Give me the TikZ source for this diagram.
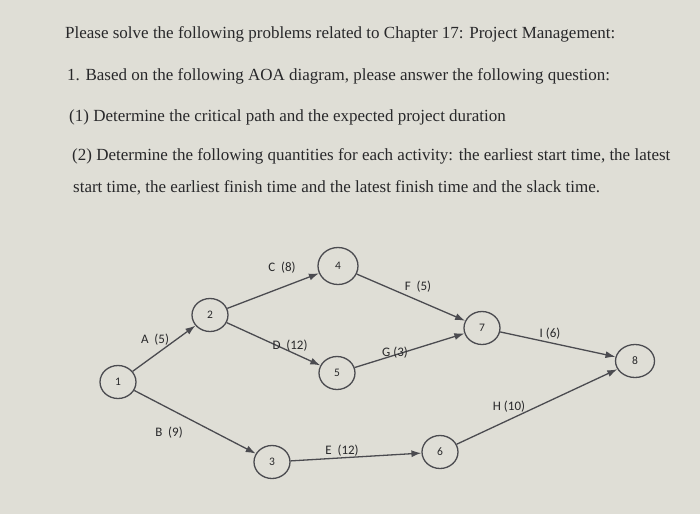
\documentclass[tikz,border=0pt]{standalone}
\usepackage{fontspec}
\setmainfont{Liberation Serif}
\newfontfamily\labelfont{Carlito}
\usetikzlibrary{arrows.meta,positioning,shapes.geometric}
\definecolor{pagebg}{RGB}{223,222,214}
\definecolor{inkgray}{RGB}{40,40,42}
\definecolor{linegray}{RGB}{75,75,80}
\tikzset{
  event/.style={ellipse,draw=linegray,line width=1.3pt,minimum width=36pt,minimum height=33pt,
    inner sep=0pt,font=\labelfont\fontsize{11.5}{13}\selectfont,text=inkgray},
  actlabel/.style={font=\labelfont\fontsize{13}{15}\selectfont,text=inkgray,inner sep=1pt},
  qline/.style={anchor=base west,font=\fontsize{17}{20}\selectfont,text=inkgray,inner sep=0pt}
}

\begin{document}
\begin{tikzpicture}[x=1pt,y=-1pt,>={Latex[length=10pt,width=7pt]}]
  \fill[pagebg] (0,0) rectangle (700,514);
  \useasboundingbox (0,0) rectangle (700,514);
  % Question text
  \node[qline] (q1) at (65,38) {Please solve the following problems related to Chapter 17: Project Management:};
  \node[qline] (q2) at (67,80) {1. Based on the following AOA diagram, please answer the following question:};
  \node[qline] (q3) at (69,121) {(1) Determine the critical path and the expected project duration};
  \node[qline] (q4) at (72,160) {(2) Determine the following quantities for each activity: the earliest start time, the latest};
  \node[qline] (q5) at (73,192) {start time, the earliest finish time and the latest finish time and the slack time.};
  % Events
  \node[event] (n1) at (118,382) {1};
  \node[event] (n2) at (210,315) {2};
  \node[event] (n3) at (272,462) {3};
  \node[event,minimum width=40pt,minimum height=37pt] (n4) at (338,266) {4};
  \node[event] (n5) at (337,373) {5};
  \node[event] (n6) at (440,452) {6};
  \node[event] (n7) at (482,328) {7};
  \node[event,minimum width=39pt] (n8) at (635,361) {8};
  % Activities
  \foreach \a/\b in {n1/n2,n1/n3,n2/n4,n2/n5,n3/n6,n4/n7,n5/n7,n7/n8,n6/n8}
    \draw[->,linegray,line width=1.3pt] (\a) -- (\b);
  % Activity labels
  \node[actlabel] (lA) at (155,340) {A\ \ (5)};
  \node[actlabel] (lB) at (169,433) {B\ \ (9)};
  \node[actlabel] (lC) at (282,268) {C\ \ (8)};
  \node[actlabel] (lD) at (290,346) {D\ \ (12)};
  \node[actlabel] (lE) at (342,451) {E\ \ (12)};
  \node[actlabel] (lF) at (418,287) {F\ \ (5)};
  \node[actlabel] (lG) at (395,353) {G (3)};
  \node[actlabel] (lH) at (509,407) {H (10)};
  \node[actlabel] (lI) at (550,334) {I (6)};
\end{tikzpicture}
\end{document}
